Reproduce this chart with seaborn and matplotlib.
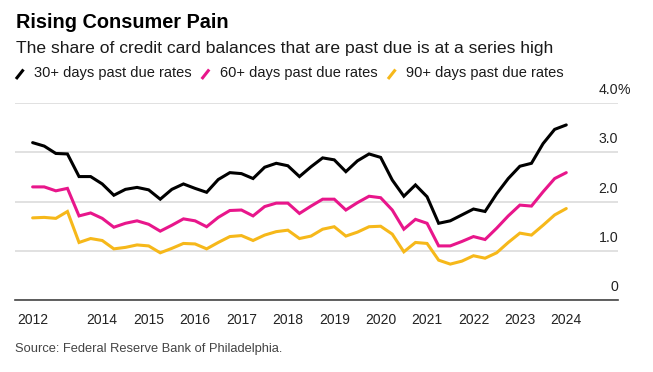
import pandas as pd
import matplotlib
matplotlib.use("Agg")
import matplotlib.pyplot as plt
import matplotlib.transforms as mtransforms
from matplotlib.lines import Line2D
import seaborn as sns

# quarterly data, 2012 Q3 .. 2024 Q1
quarters = pd.period_range("2012Q3", "2024Q1", freq="Q")

past_due_30 = [3.20, 3.13, 2.98, 2.97, 2.51, 2.51, 2.36, 2.13, 2.25, 2.29,
               2.24, 2.05, 2.25, 2.36, 2.27, 2.19, 2.45, 2.59, 2.57, 2.47,
               2.70, 2.78, 2.73, 2.51, 2.71, 2.89, 2.85, 2.61, 2.83, 2.97,
               2.90, 2.44, 2.11, 2.34, 2.10, 1.56, 1.61, 1.73, 1.85, 1.80,
               2.16, 2.47, 2.72, 2.78, 3.18, 3.47, 3.56]
past_due_60 = [2.30, 2.30, 2.22, 2.27, 1.71, 1.77, 1.66, 1.48, 1.56, 1.61,
               1.54, 1.40, 1.52, 1.65, 1.61, 1.49, 1.68, 1.82, 1.83, 1.71,
               1.90, 1.97, 1.97, 1.76, 1.91, 2.05, 2.05, 1.83, 1.98, 2.11,
               2.08, 1.83, 1.44, 1.64, 1.56, 1.10, 1.10, 1.19, 1.29, 1.23,
               1.46, 1.71, 1.93, 1.91, 2.20, 2.47, 2.59]
past_due_90 = [1.67, 1.68, 1.66, 1.80, 1.17, 1.25, 1.21, 1.04, 1.07, 1.12,
               1.10, 0.96, 1.05, 1.15, 1.14, 1.04, 1.17, 1.29, 1.31, 1.21,
               1.32, 1.39, 1.42, 1.25, 1.30, 1.44, 1.49, 1.30, 1.38, 1.49,
               1.50, 1.34, 0.98, 1.17, 1.15, 0.81, 0.73, 0.79, 0.90, 0.85,
               0.96, 1.17, 1.36, 1.32, 1.52, 1.73, 1.86]

series_names = ["30+ days past due rates", "60+ days past due rates", "90+ days past due rates"]
series_colors = ["#000000", "#e8168b", "#f6b81a"]

x_ticks = [2012.5, 2014, 2015, 2016, 2017, 2018, 2019, 2020, 2021, 2022, 2023, 2024]
x_labels = ["2012", "2014", "2015", "2016", "2017", "2018", "2019", "2020",
            "2021", "2022", "2023", "2024"]
y_ticks = [0, 1, 2, 3, 4]
y_labels = ["0", "1.0", "2.0", "3.0", "4.0"]

xpos = [q.year + (q.quarter - 1) / 4 for q in quarters]
df = pd.DataFrame({
    "x": xpos * 3,
    "rate": past_due_30 + past_due_60 + past_due_90,
    "series": sum([[n] * len(xpos) for n in series_names], []),
})

sns.set_theme(style="white")
plt.rcParams["font.family"] = ["Liberation Sans", "DejaVu Sans"]

W, H = 653, 372
fig = plt.figure(figsize=(W / 100, H / 100), dpi=100)
ax = fig.add_axes([15 / W, (H - 300) / H, (618 - 15) / W, (300 - 103.3) / H])

sns.lineplot(data=df, x="x", y="rate", hue="series", palette=series_colors,
             hue_order=series_names, linewidth=2.2, legend=False, ax=ax,
             solid_joinstyle="miter")

ax.set_xlim(2012.12, 2025.115)
ax.set_ylim(0, 4.0)
ax.set_xticks(x_ticks)
ax.set_xticklabels(x_labels, fontsize=10, color="#222222")
ax.set_yticks(y_ticks)
ax.set_yticklabels([])
ax.tick_params(axis="y", length=0)
ax.tick_params(axis="x", direction="out", length=4.5, width=1.1, color="#444444", pad=5)
ax.grid(axis="y", color="#dcdcdc", linewidth=1.2)
ax.set_axisbelow(True)
for s in ["top", "left", "right"]:
    ax.spines[s].set_visible(False)
ax.spines["bottom"].set_color("#444444")
ax.spines["bottom"].set_linewidth(1.2)
ax.set_xlabel("")
ax.set_ylabel("")

# y labels sit above the gridlines at the right end
trans = mtransforms.blended_transform_factory(ax.transAxes, ax.transData)
for v, lab in zip(y_ticks, y_labels):
    ax.annotate(lab, (1.0, v), xycoords=trans, xytext=(0, 6.5),
                textcoords="offset points", ha="right", va="baseline",
                fontsize=10.2, color="#222222")
ax.annotate("%", (1.0, 4.0), xycoords=trans, xytext=(-0.6, 6.5),
            textcoords="offset points", ha="left", va="baseline",
            fontsize=10.2, color="#222222", annotation_clip=False)

def fx(px):
    return px / W

def fy(py):
    return 1 - py / H

fig.text(fx(15.5), fy(28.3), "Rising Consumer Pain", fontsize=14.3,
         fontweight="bold", color="#000000", va="baseline")
fig.text(fx(15.5), fy(53.3), "The share of credit card balances that are past due is at a series high",
         fontsize=12.6, color="#1a1a1a", va="baseline")

# legend row with slanted swatches
legend_x = [16, 201.7, 388]
for lx, name, col in zip(legend_x, series_names, series_colors):
    fig.add_artist(Line2D([fx(lx), fx(lx + 7.5)], [fy(79), fy(69.5)],
                          color=col, linewidth=2.2, solid_capstyle="butt"))
    fig.text(fx(lx + 18.5), fy(77.3), name, fontsize=10.5, color="#1a1a1a", va="baseline")

fig.text(fx(15), fy(352.3), "Source: Federal Reserve Bank of Philadelphia.",
         fontsize=9.25, color="#444444", va="baseline")

fig.savefig("out.png", dpi=100, facecolor="white")
